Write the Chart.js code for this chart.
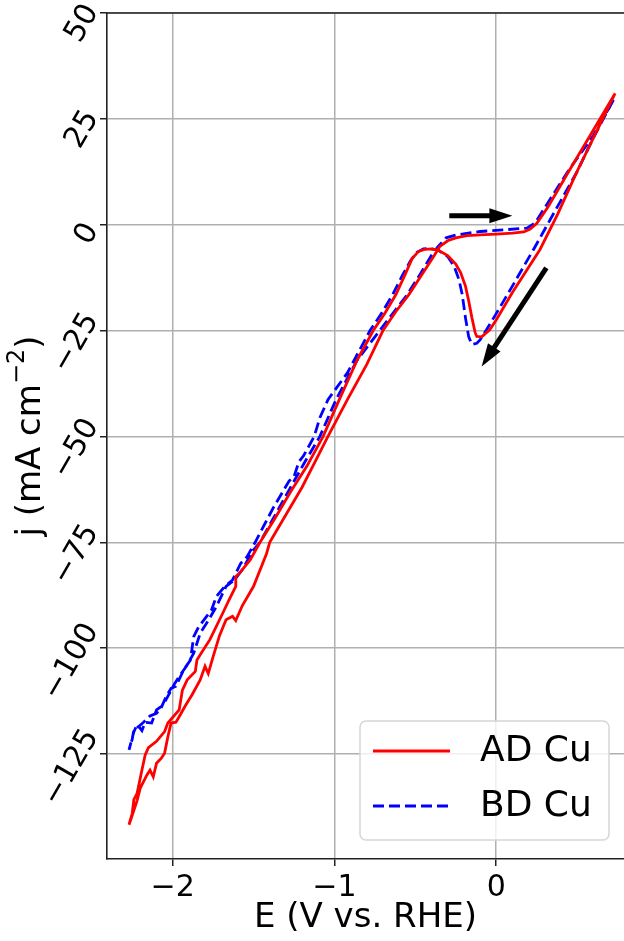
<!DOCTYPE html>
<html lang="en">
<head>
<meta charset="UTF-8">
<title>CV - AD Cu vs BD Cu</title>
<script src="https://cdn.jsdelivr.net/npm/chart.js"></script>
<style>
    html, body { margin: 0; padding: 0; background: #fff; }
    #wrap { width: 624px; height: 941px; }
</style>
</head>
<body>
<div id="wrap"><canvas id="cv" width="624" height="941"></canvas></div>
<script>
// AD Cu: E (V vs. RHE) and j (mA cm-2), traced along the cycle
const adE = [0.735, 0.62, 0.5, 0.38, 0.27, 0.1, 0.0, -0.04, -0.09, -0.12, -0.13, -0.15, -0.17, -0.19, -0.22, -0.25, -0.30, -0.36, -0.40, -0.44,
    -0.48, -0.52, -0.56, -0.62, -0.69, -0.76, -0.86, -0.97, -1.07, -1.17, -1.27, -1.37, -1.46, -1.52, -1.58, -1.61, -1.61, -1.65, -1.69, -1.77,
    -1.82, -1.85, -1.86, -1.91, -1.94, -1.96, -2.03, -2.05, -2.10, -2.15, -2.17, -2.18, -2.19, -2.22, -2.24, -2.25, -2.27,
    -2.25, -2.22, -2.20, -2.18, -2.16, -2.14, -2.12, -2.10, -2.07, -2.05, -2.03, -2.01, -1.98, -1.96, -1.92, -1.88, -1.83, -1.80, -1.78,
    -1.75, -1.71, -1.67, -1.63, -1.61, -1.57, -1.50, -1.42, -1.40, -1.30, -1.20, -1.12, -1.04, -0.92, -0.80, -0.70, -0.62, -0.54, -0.46,
    -0.38, -0.35, -0.30, -0.25, -0.18, -0.10, 0.0, 0.10, 0.17, 0.21, 0.25, 0.32, 0.45, 0.60, 0.735];
const adJ = [31, 22, 12.6, 2.5, -5.9, -16, -22.5, -24.8, -26.5, -26.4, -25.5, -22, -18, -14.5, -11.3, -9.3, -7.3, -6.0, -5.7, -5.8,
    -6.3, -8, -11.5, -16.5, -21, -25, -32, -41.3, -50, -57, -63, -69.5, -75, -79.1, -82, -83.1, -85.4, -88.5, -91.7, -98,
    -101, -102.8, -105.5, -107.5, -109.9, -114.6, -117.7, -119.7, -122, -123.5, -125.2, -127, -128.8, -134.3, -135.8, -139, -141.7,
    -139.5, -136, -133, -131.5, -130, -128.8, -130.4, -127.2, -126, -124.8, -121, -117.7, -117.5, -116.2, -113.5, -111, -107.5, -104.3, -106,
    -102, -97, -93.3, -92.5, -93.5, -90, -85.4, -77.7, -75, -68.5, -62, -56, -50, -41.3, -33, -25, -20.5, -16.5, -11.8,
    -7.1, -5.2, -3.8, -3.1, -2.6, -2.4, -2.2, -2.0, -1.7, -1.0, 0.3, 4.2, 12.7, 22.3, 31];

// BD Cu
const bdE = [0.725, 0.6, 0.5, 0.36, 0.23, 0.1, 0.0, -0.06, -0.10, -0.12, -0.15, -0.17, -0.19, -0.21, -0.23, -0.26, -0.30, -0.36, -0.41, -0.45,
    -0.49, -0.53, -0.58, -0.64, -0.71, -0.78, -0.92, -1.04, -1.09, -1.125, -1.19, -1.22, -1.25, -1.28, -1.38, -1.49, -1.54, -1.58, -1.63, -1.68,
    -1.73, -1.76, -1.79, -1.84, -1.87, -1.88, -1.89, -1.93, -1.98, -2.01, -2.04, -2.07, -2.10, -2.14, -2.18, -2.21, -2.24, -2.25, -2.27,
    -2.24, -2.22, -2.19, -2.17, -2.13, -2.10, -2.06, -2.03, -1.99, -1.96, -1.91, -1.87, -1.83, -1.78, -1.73, -1.67, -1.62, -1.57, -1.50,
    -1.46, -1.38, -1.30, -1.19, -1.09, -0.99, -0.86, -0.72, -0.63, -0.55, -0.47, -0.40, -0.36, -0.31, -0.245, -0.10, 0.05, 0.19, 0.24,
    0.30, 0.45, 0.60, 0.725];
const bdJ = [29.5, 20.5, 12.5, 3, -5.9, -14.5, -21, -24.8, -27.2, -28, -28.3, -26.5, -22, -16.5, -13, -9.8, -7.5, -6.0, -5.6, -5.7,
    -6.5, -8.5, -12, -16.5, -21, -25, -35, -41.3, -45.6, -50, -54.5, -56, -59.5, -60.5, -67, -75, -78.4, -80, -83.9, -85.5,
    -87.8, -91, -92.5, -95, -97.3, -100, -102.8, -105, -109, -109.5, -111.4, -114, -115.4, -116, -117.5, -118.5, -119.3, -121.5, -124,
    -119.8, -118, -119.5, -117.5, -117.7, -114.6, -113.5, -111.4, -108.5, -106.7, -104, -101.2, -96.5, -93.5, -90.2, -85.4, -84, -81.5, -76.8,
    -75, -69.5, -64, -56.5, -50, -41.3, -32, -25, -20.5, -16.5, -11.7, -7.2, -5.2, -3.1, -2.4, -1.6, -1.2, -0.8, 0.4,
    4, 13, 21, 29.5];

const seriesNames = ['AD Cu', 'BD Cu'];
const xTicks = [-2, -1, 0];
const yTicks = [-125, -100, -75, -50, -25, 0, 25, 50];
// scan direction arrows, [E, j] tail -> head
const arrowTails = [[-0.29, 2.1], [0.31, -10.2]];
const arrowHeads = [[0.10, 2.1], [-0.09, -33.5]];

const FONT = 'DejaVu Sans';
const minus = v => String(v).replace('-', '\u2212');
const toPts = (xs, ys) => xs.map((x, i) => ({ x: x, y: ys[i] }));

// frame, rotated y tick labels, y label with superscript, arrows and legend box
const extras = {
    id: 'extras',
    afterDatasetsDraw(chart) {
        const { ctx, chartArea: a, scales } = chart;
        ctx.save();
        // top spine
        ctx.strokeStyle = '#222';
        ctx.lineWidth = 1.6;
        ctx.beginPath();
        ctx.moveTo(a.left, a.top);
        ctx.lineTo(a.right, a.top);
        ctx.stroke();

        // y tick labels, rotated 60 deg, roughly centred on their tick
        ctx.fillStyle = '#000';
        ctx.font = '30px "' + FONT + '"';
        ctx.textAlign = 'right';
        ctx.textBaseline = 'middle';
        scales.y.ticks.forEach(t => {
            const lab = minus(t.value);
            const w = ctx.measureText(lab).width;
            const py = scales.y.getPixelForValue(t.value);
            ctx.setTransform(1, 0, 0, 1, a.left - 15, py + 8 - 0.364 * w);
            ctx.rotate(-Math.PI / 3);
            ctx.fillText(lab, 0, 0);
        });
        ctx.setTransform(1, 0, 0, 1, 0, 0);

        // y axis label: j (mA cm^-2)
        const big = '34px "' + FONT + '"', small = '24px "' + FONT + '"';
        const parts = [['j (mA cm', big, 0], ['\u22122', small, -13], [')', big, 0]];
        let total = 0;
        parts.forEach(p => { ctx.font = p[1]; total += ctx.measureText(p[0]).width; });
        ctx.translate(31, (a.top + a.bottom) / 2);
        ctx.rotate(-Math.PI / 2);
        ctx.textAlign = 'left';
        let px = -total / 2;
        parts.forEach(p => {
            ctx.font = p[1];
            ctx.fillText(p[0], px, p[2]);
            px += ctx.measureText(p[0]).width;
        });
        ctx.setTransform(1, 0, 0, 1, 0, 0);

        // arrows
        ctx.strokeStyle = '#000';
        for (let i = 0; i < arrowTails.length; i++) {
            const x0 = scales.x.getPixelForValue(arrowTails[i][0]);
            const y0 = scales.y.getPixelForValue(arrowTails[i][1]);
            const x1 = scales.x.getPixelForValue(arrowHeads[i][0]);
            const y1 = scales.y.getPixelForValue(arrowHeads[i][1]);
            const len = Math.hypot(x1 - x0, y1 - y0);
            const ux = (x1 - x0) / len, uy = (y1 - y0) / len;
            const hl = 23, hw = 7.5;
            const bx = x1 - ux * hl, by = y1 - uy * hl;
            ctx.lineWidth = 5;
            ctx.lineCap = 'butt';
            ctx.beginPath();
            ctx.moveTo(x0, y0);
            ctx.lineTo(bx + ux, by + uy);
            ctx.stroke();
            ctx.beginPath();
            ctx.moveTo(x1, y1);
            ctx.lineTo(bx - uy * hw, by + ux * hw);
            ctx.lineTo(bx + uy * hw, by - ux * hw);
            ctx.closePath();
            ctx.fill();
        }

        // legend, lower right
        const bw = 249, bh = 119;
        const bx = a.right - 15 - bw, by = a.bottom - 19 - bh;
        ctx.fillStyle = 'rgba(255,255,255,0.8)';
        ctx.strokeStyle = '#d6d6d6';
        ctx.lineWidth = 1.5;
        ctx.beginPath();
        ctx.roundRect(bx, by, bw, bh, 6);
        ctx.fill();
        ctx.stroke();
        ctx.font = '36px "' + FONT + '"';
        ctx.textBaseline = 'middle';
        ctx.textAlign = 'left';
        chart.data.datasets.forEach((ds, i) => {
            const ly = by + 30 + i * 55;
            ctx.strokeStyle = ds.borderColor;
            ctx.lineWidth = ds.borderWidth;
            ctx.setLineDash(ds.borderDash || []);
            ctx.beginPath();
            ctx.moveTo(bx + 13, ly);
            ctx.lineTo(bx + 90, ly);
            ctx.stroke();
            ctx.setLineDash([]);
            ctx.fillStyle = '#000';
            ctx.fillText(ds.label, bx + 120, ly + 1);
        });
        ctx.restore();
    }
};

new Chart(document.getElementById('cv'), {
    type: 'line',
    data: {
        datasets: [
            {
                label: seriesNames[0],
                data: toPts(adE, adJ),
                borderColor: '#ff0000',
                borderWidth: 2.8,
                pointRadius: 0,
                fill: false,
                tension: 0
            },
            {
                label: seriesNames[1],
                data: toPts(bdE, bdJ),
                borderColor: '#0000ff',
                borderWidth: 2.8,
                borderDash: [11, 5],
                pointRadius: 0,
                fill: false,
                tension: 0
            }
        ]
    },
    options: {
        responsive: false,
        animation: false,
        layout: { padding: { top: 13, left: 0, right: 0, bottom: 0 } },
        plugins: { legend: { display: false }, tooltip: { enabled: false } },
        scales: {
            x: {
                type: 'linear',
                min: -2.406,
                max: 0.79,
                afterBuildTicks: s => { s.ticks = xTicks.map(v => ({ value: v })); },
                afterFit: s => { s.height = 82; s.paddingLeft = 0; s.paddingRight = 0; },
                ticks: {
                    color: '#000',
                    font: { family: FONT, size: 30 },
                    padding: 4,
                    maxRotation: 0,
                    callback: v => minus(v)
                },
                grid: { color: '#b0b0b0', lineWidth: 1.5, tickColor: '#222', tickLength: 7 },
                border: { color: '#222', width: 1.6 },
                title: {
                    display: true,
                    text: 'E (V vs. RHE)',
                    color: '#000',
                    font: { family: FONT, size: 34 },
                    padding: { top: 0, bottom: 2 }
                }
            },
            y: {
                type: 'linear',
                min: -149.8,
                max: 50,
                afterBuildTicks: s => { s.ticks = yTicks.map(v => ({ value: v })); },
                afterFit: s => { s.width = 107; s.paddingTop = 0; s.paddingBottom = 0; },
                ticks: { display: false },
                grid: { color: '#b0b0b0', lineWidth: 1.5, tickColor: '#222', tickLength: 7 },
                border: { color: '#222', width: 1.6 },
                title: { display: false }
            }
        }
    },
    plugins: [extras]
});
</script>
</body>
</html>
